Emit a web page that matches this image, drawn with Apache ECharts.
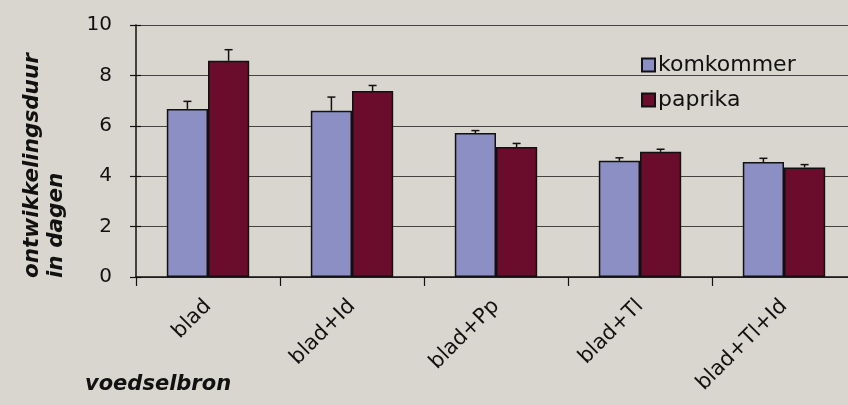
<!DOCTYPE html>
<html>
<head>
<meta charset="utf-8">
<script src="https://cdn.jsdelivr.net/npm/echarts@6/dist/echarts.min.js"></script>
<style>
html,body{margin:0;padding:0;background:#d9d6cf;}
#main{width:848px;height:405px;}
</style>
</head>
<body>
<div id="main"></div>
<script>
var categories = ['blad', 'blad+Id', 'blad+Pp', 'blad+Tl', 'blad+Tl+Id'];
var komkommer = [6.67, 6.6, 5.71, 4.61, 4.56];
var paprika = [8.58, 7.38, 5.16, 4.97, 4.35];
var komkommerErr = [0.3, 0.54, 0.1, 0.12, 0.15];
var paprikaErr = [0.44, 0.22, 0.14, 0.1, 0.11];
var yTicks = [0, 2, 4, 6, 8, 10];

var FONT = 'DejaVu Sans';
var BAR_FRAC = 0.286;

function errSeries(name, values, errs, side) {
  var data = values.map(function (v, i) { return [i, v, v + errs[i]]; });
  return {
    type: 'custom',
    name: name + ' err',
    z: 5,
    renderItem: function (params, api) {
      var i = api.value(0);
      var band = api.size([1, 0])[0];
      var w = band * BAR_FRAC;
      var base = api.coord([i, api.value(1)]);
      var top = api.coord([i, api.value(2)]);
      var x = base[0] + side * w / 2;
      var cap = 4;
      return {
        type: 'group',
        children: [
          { type: 'line', shape: { x1: x, y1: base[1], x2: x, y2: top[1] }, style: { stroke: '#111', lineWidth: 1.5 } },
          { type: 'line', shape: { x1: x - cap, y1: top[1], x2: x + cap, y2: top[1] }, style: { stroke: '#111', lineWidth: 1.5 } }
        ]
      };
    },
    data: data,
    tooltip: { show: false }
  };
}

var chart = echarts.init(document.getElementById('main'));
chart.setOption({
  backgroundColor: '#d9d6cf',
  animation: false,
  textStyle: { fontFamily: FONT },
  grid: { left: 136, width: 720, top: 25, height: 252, containLabel: false, outerBoundsMode: 'none' },
  legend: {
    data: ['komkommer', 'paprika'],
    orient: 'vertical',
    left: 636,
    top: 49,
    itemWidth: 13,
    itemHeight: 13,
    itemGap: 13,
    icon: 'rect',
    textStyle: { fontFamily: FONT, fontSize: 22, color: '#111', padding: [0, 0, 0, -2] }
  },
  xAxis: {
    type: 'category',
    data: categories,
    axisLine: { lineStyle: { color: '#111', width: 1.5 } },
    axisTick: { show: true, length: 9, lineStyle: { color: '#111', width: 1.2 } },
    axisLabel: { rotate: 45, fontSize: 21, color: '#111', margin: 26, fontFamily: FONT }
  },
  yAxis: [{
    type: 'value',
    min: 0,
    max: 10,
    interval: 2,
    axisLine: { show: true, lineStyle: { color: '#111', width: 1.5 } },
    axisTick: { show: true, length: 6, lineStyle: { color: '#111', width: 1.2 } },
    axisLabel: {
      fontSize: 20, color: '#111', margin: 24, fontFamily: FONT,
      formatter: function (v) { return yTicks.indexOf(v) >= 0 ? String(v) : ''; }
    },
    splitLine: { show: true, lineStyle: { color: '#444', width: 1.2 } }
  }, {
    type: 'value',
    position: 'left',
    min: 0,
    max: 10,
    interval: 2,
    axisLine: { show: false },
    axisTick: { show: true, inside: true, length: 5, lineStyle: { color: '#111', width: 1.2 } },
    axisLabel: { show: false },
    splitLine: { show: false }
  }],
  series: [
    {
      name: 'komkommer',
      type: 'bar',
      data: komkommer,
      barWidth: (BAR_FRAC * 100) + '%',
      barGap: '0%',
      itemStyle: { color: '#8c8fc4', borderColor: '#111', borderWidth: 1.5 },
      z: 3
    },
    {
      name: 'paprika',
      type: 'bar',
      data: paprika,
      barWidth: (BAR_FRAC * 100) + '%',
      barGap: '0%',
      itemStyle: { color: '#6a0d2c', borderColor: '#111', borderWidth: 1.5 },
      z: 3
    },
    errSeries('komkommer', komkommer, komkommerErr, -1),
    errSeries('paprika', paprika, paprikaErr, 1)
  ],
  graphic: [
    {
      type: 'text',
      x: 32, y: 278, rotation: Math.PI / 2,
      style: { text: 'ontwikkelingsduur', font: 'italic bold 21.5px "' + FONT + '"', fill: '#111', textAlign: 'left', textVerticalAlign: 'middle' }
    },
    {
      type: 'text',
      x: 56, y: 278, rotation: Math.PI / 2,
      style: { text: 'in dagen', font: 'italic bold 21.5px "' + FONT + '"', fill: '#111', textAlign: 'left', textVerticalAlign: 'middle' }
    },
    {
      type: 'text',
      x: 85, y: 385,
      style: { text: 'voedselbron', font: 'italic bold 21px "' + FONT + '"', fill: '#111', textAlign: 'left', textVerticalAlign: 'middle' }
    }
  ]
});
</script>
</body>
</html>
